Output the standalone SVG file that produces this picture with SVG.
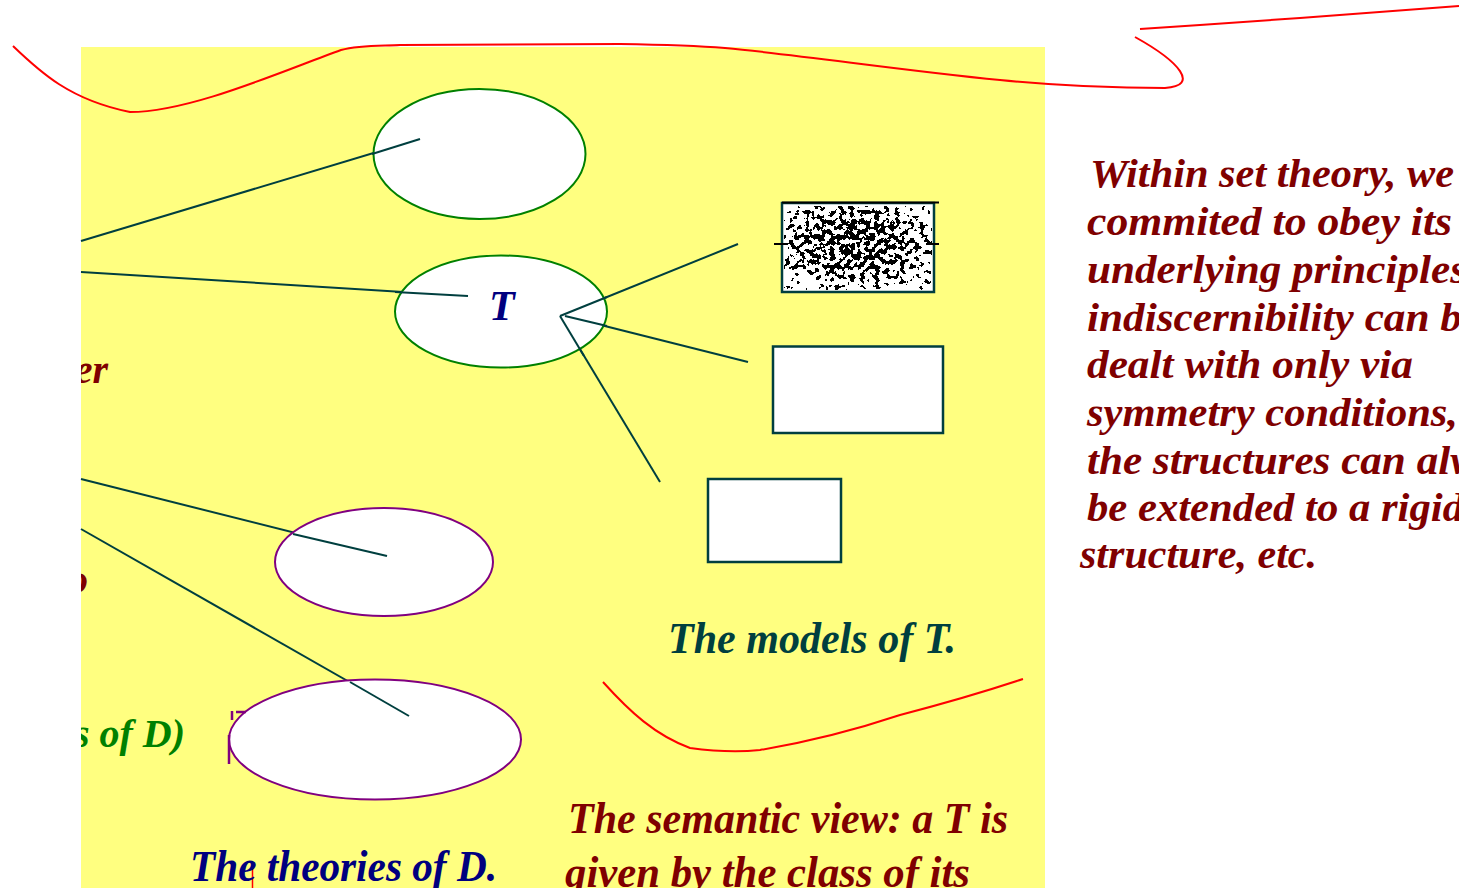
<svg xmlns="http://www.w3.org/2000/svg" width="1459" height="888" viewBox="0 0 1459 888">
<defs>
<style>
.bg{fill:#ffff80}
.eg{fill:#fff;stroke:#008000;stroke-width:2}
.ep{fill:#fff;stroke:#800080;stroke-width:2}
.bx{fill:#fff;stroke:#003f3f;stroke-width:2.5}
.cn{fill:none;stroke:#003f3f;stroke-width:2}
.rd{fill:none;stroke:#ff0000;stroke-width:2}
text{font-family:"Liberation Serif","Times New Roman",serif;font-weight:bold;font-style:italic}
.dr{fill:#7f0000;font-size:40px}
.bd{fill:#7f0000;font-size:44px}
.nv{fill:#00007f;font-size:44px}
.tl{fill:#003f3f;font-size:44px}
.gr{fill:#008000;font-size:40px}
</style>
<clipPath id="yc"><rect x="81" y="47" width="964" height="841"/></clipPath>
<radialGradient id="dens" cx="0.47" cy="0.45" r="0.6">
<stop offset="0" stop-color="#000" stop-opacity="1"/>
<stop offset="0.5" stop-color="#000" stop-opacity="0.97"/>
<stop offset="0.85" stop-color="#000" stop-opacity="0.88"/>
<stop offset="1" stop-color="#000" stop-opacity="0.8"/>
</radialGradient>
<filter id="nz" filterUnits="userSpaceOnUse" x="784" y="206" width="149" height="86" color-interpolation-filters="sRGB">
<feTurbulence type="fractalNoise" baseFrequency="0.2" numOctaves="2" seed="11" result="n"/>
<feColorMatrix in="n" type="matrix" values="0 0 0 0 0  0 0 0 0 0  0 0 0 0 0  1 0 0 0 0" result="na"/>
<feComposite in="na" in2="SourceGraphic" operator="arithmetic" k1="0" k2="1" k3="1" k4="-0.97"/>
<feComponentTransfer><feFuncA type="discrete" tableValues="0 1"/></feComponentTransfer>
</filter>
</defs>

<rect class="bg" x="81" y="47" width="964" height="841"/>

<g id="curves">
<path class="rd" d="M13,46 C40,72 70,100 130,112 C190,112 280,72 341,50 C360,45 380,46 400,45 L620,44 C680,45 700,46 725,48 C800,55 900,70 1000,80 C1060,86 1110,88 1165,88 C1200,86 1180,62 1135,37"/>
<path class="rd" d="M1140,29 L1200,25 L1300,18 L1459,6"/>
<path class="rd" d="M603,682 C630,712 655,735 690,748 C720,752 740,752 760,750 C820,740 870,725 900,715 C950,702 990,690 1023,679"/>
<line x1="252.5" y1="868" x2="252.5" y2="888" stroke="#ff0000" stroke-width="1.5"/>
</g>

<g id="connectors">
<line class="cn" x1="81" y1="241" x2="420" y2="139"/>
<line class="cn" x1="81" y1="272" x2="468" y2="296"/>
<line class="cn" x1="81" y1="479" x2="387" y2="556"/>
<line class="cn" x1="81" y1="529" x2="409" y2="716"/>
<line class="cn" x1="560" y1="316" x2="738" y2="244"/>
<line class="cn" x1="565" y1="316" x2="748" y2="362"/>
<line class="cn" x1="560" y1="316" x2="660" y2="482"/>
</g>

<g id="node-top-ellipse">
<ellipse class="eg" cx="479.5" cy="154" rx="106" ry="65"/>
<line class="cn" x1="372" y1="154" x2="420" y2="139"/>
</g>

<g id="node-T">
<ellipse class="eg" cx="501" cy="311.5" rx="106" ry="56"/>
<line class="cn" x1="395" y1="292" x2="468" y2="296"/>
<line class="cn" x1="560" y1="316" x2="607" y2="297"/>
<line class="cn" x1="565" y1="316" x2="607" y2="326"/>
<line class="cn" x1="560" y1="316" x2="584" y2="356"/>
<text x="489" y="320" fill="#00007f" font-size="42">T</text>
</g>

<g id="node-model-1">
<rect class="bx" x="782" y="203" width="152" height="89"/>
<rect x="784" y="206" width="148" height="84" fill="url(#dens)" filter="url(#nz)"/>
<line x1="782" y1="202.5" x2="939" y2="202.5" stroke="#000" stroke-width="2"/>
<line x1="774" y1="244" x2="788" y2="244" stroke="#000" stroke-width="2"/>
<line x1="926" y1="244" x2="939" y2="244" stroke="#000" stroke-width="2"/>
</g>

<g id="node-model-2">
<rect class="bx" x="773" y="346.5" width="170" height="86.5"/>
</g>

<g id="node-model-3">
<rect class="bx" x="708" y="479" width="133" height="83"/>
</g>

<g id="node-theory-1">
<ellipse class="ep" cx="384" cy="562" rx="109" ry="54"/>
<line class="cn" x1="293" y1="534" x2="387" y2="556"/>
</g>

<g id="node-theory-2">
<ellipse class="ep" cx="375" cy="739.5" rx="146" ry="60"/>
<line class="cn" x1="350" y1="682" x2="409" y2="716"/>
<path d="M232,711 L232,720 M236,712 L246,712" stroke="#800080" stroke-width="2.5" fill="none"/>
<path d="M229,735 L229,764" stroke="#800080" stroke-width="2.5" fill="none"/>
</g>

<g id="labels">
<g clip-path="url(#yc)">
<text class="dr" x="108" y="383" text-anchor="end">er</text>
<text class="dr" x="88" y="593" text-anchor="end">o</text>
<text class="gr" x="185" y="747" text-anchor="end">s of D)</text>
</g>
<text class="tl" x="668" y="653" textLength="288" lengthAdjust="spacingAndGlyphs">The models of T.</text>
<text class="nv" x="190" y="881" textLength="307" lengthAdjust="spacingAndGlyphs">The theories of D.</text>
<text class="bd" x="568" y="833" textLength="440" lengthAdjust="spacingAndGlyphs">The semantic view: a T is</text>
<text class="bd" x="565" y="887" textLength="405" lengthAdjust="spacingAndGlyphs">given by the class of its</text>
</g>

<g id="side-text">
<text class="dr" x="1090" y="187" textLength="364" lengthAdjust="spacingAndGlyphs">Within set theory, we</text>
<text class="dr" x="1087" y="235" textLength="365" lengthAdjust="spacingAndGlyphs">commited to obey its</text>
<text class="dr" x="1087" y="283" textLength="380" lengthAdjust="spacingAndGlyphs">underlying principles</text>
<text class="dr" x="1087" y="331" textLength="375" lengthAdjust="spacingAndGlyphs">indiscernibility can b</text>
<text class="dr" x="1087" y="378" textLength="326" lengthAdjust="spacingAndGlyphs">dealt with only via</text>
<text class="dr" x="1087" y="426" textLength="371" lengthAdjust="spacingAndGlyphs">symmetry conditions,</text>
<text class="dr" x="1087" y="474" textLength="392" lengthAdjust="spacingAndGlyphs">the structures can alw</text>
<text class="dr" x="1087" y="521" textLength="377" lengthAdjust="spacingAndGlyphs">be extended to a rigid</text>
<text class="dr" x="1080" y="568" textLength="237" lengthAdjust="spacingAndGlyphs">structure, etc.</text>
</g>
</svg>
